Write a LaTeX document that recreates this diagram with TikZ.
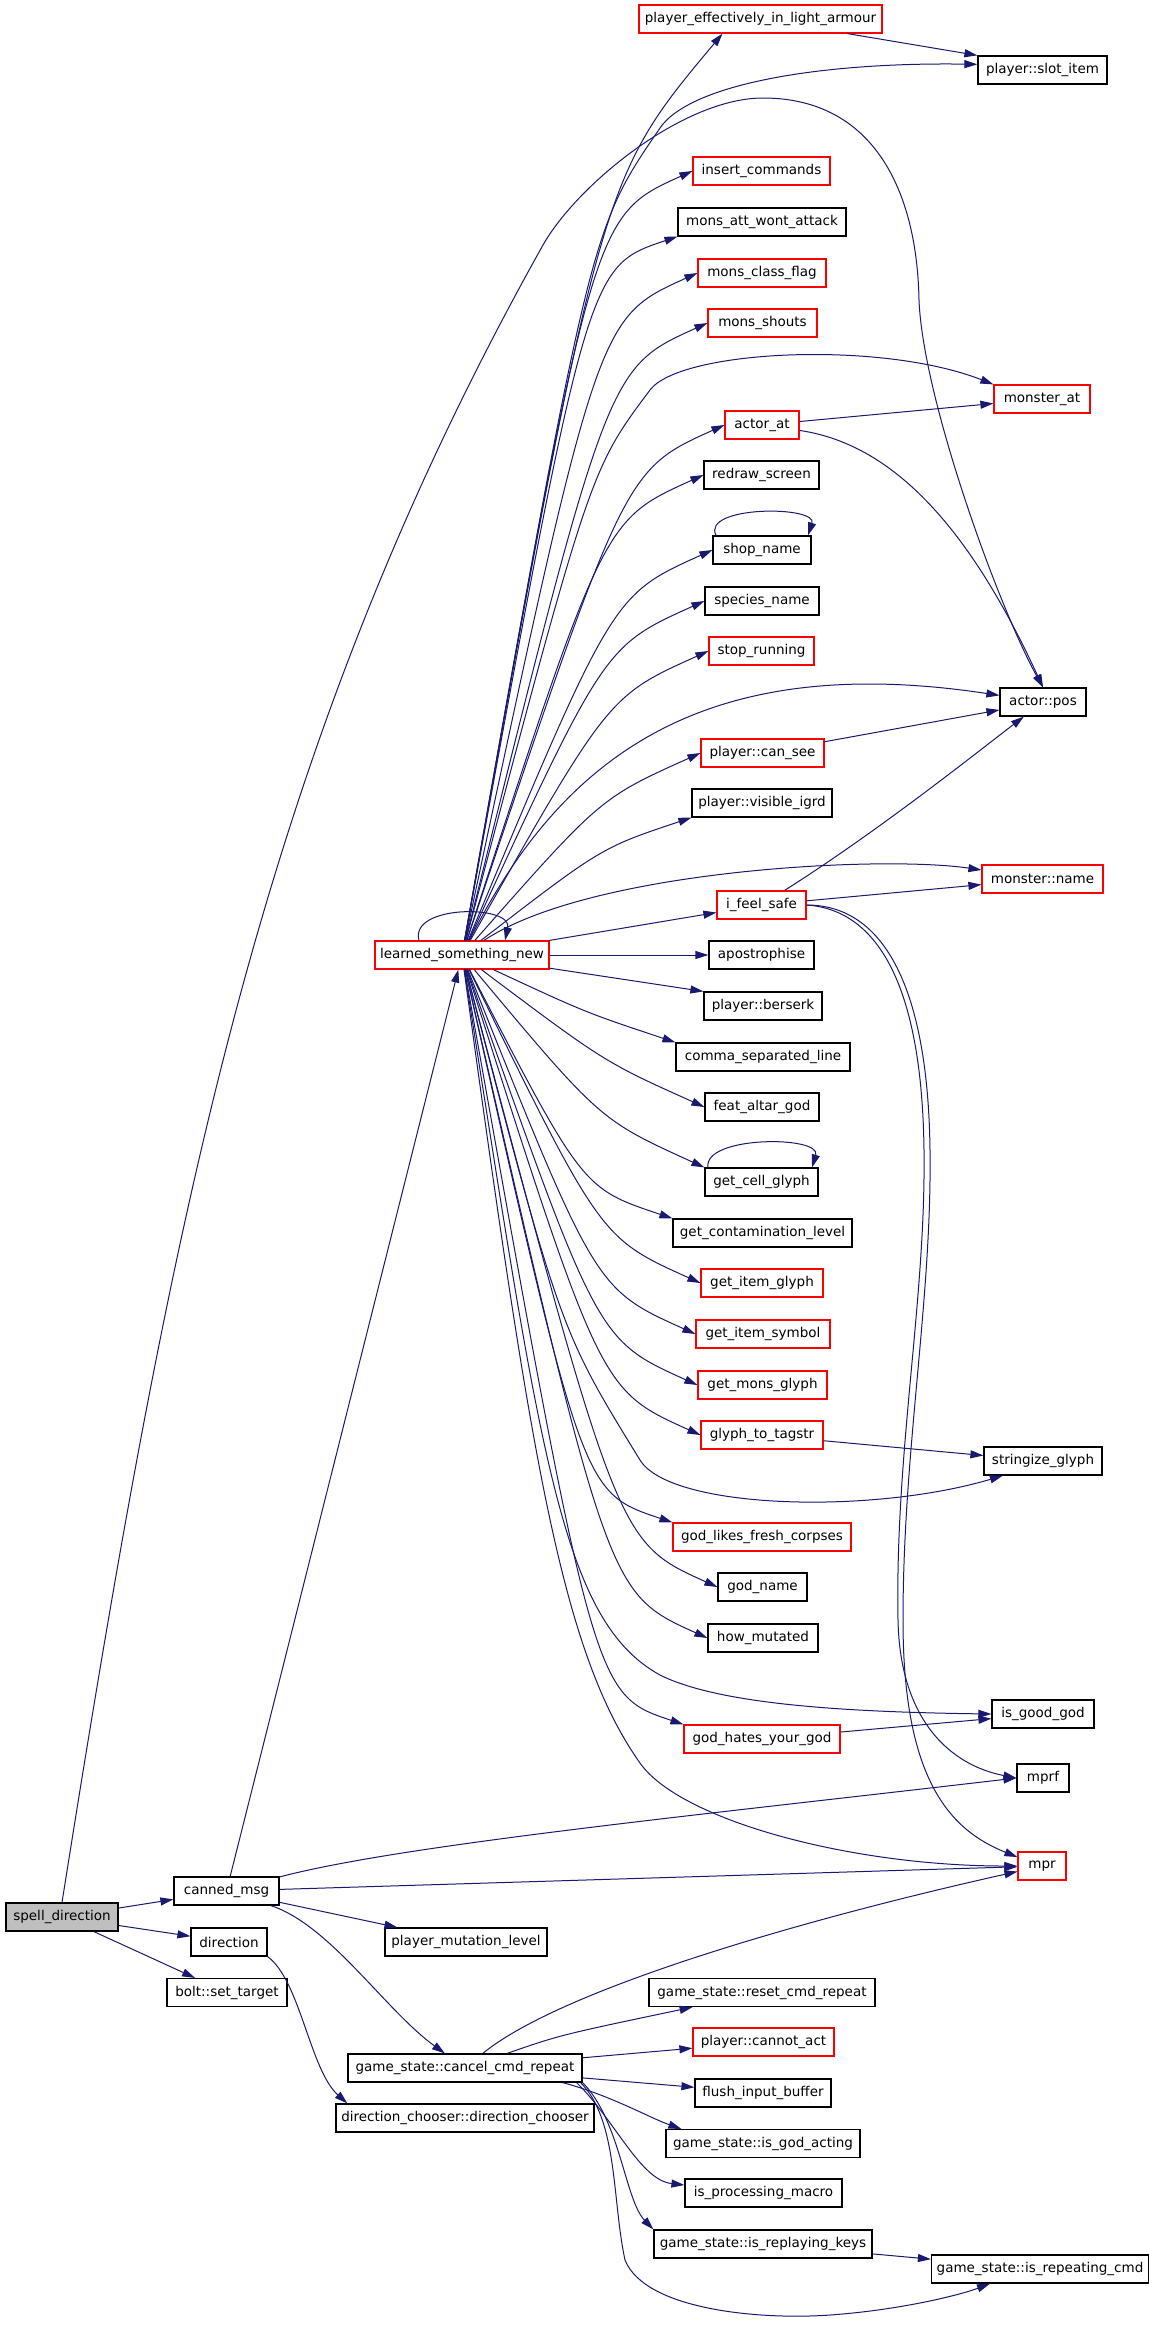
\documentclass[tikz,border=0pt]{standalone}
\usepackage{fontspec}
\setmainfont{DejaVu Sans}
\usepackage{tikz}
\usetikzlibrary{arrows.meta,calc}
\usepackage{xcolor}
\definecolor{edgeblue}{RGB}{25,25,112}
\definecolor{boxred}{RGB}{255,0,0}
\definecolor{rootgray}{RGB}{191,191,191}
\tikzset{
  fn/.style={draw=black, rectangle, line width=0.6pt, fill=white, minimum height=14pt, inner xsep=1pt, inner ysep=0pt, font=\fontsize{6.75pt}{8pt}\selectfont},
  fnred/.style={fn, draw=boxred},
  fnroot/.style={fn, fill=rootgray},
  call/.style={->, draw=edgeblue, line width=0.5pt}
}
\begin{document}
\begin{tikzpicture}[x=0.5pt, y=-0.5pt, >={Triangle[length=6.5pt,width=4pt]}] % 像素坐标, y 向下
            \useasboundingbox (0,0) rectangle (1149,2336);
            % 入口函数
            \node[fnroot, minimum width=56pt] (spelldir) at (62,1917) {spell\_direction};

            % 第一层
            \node[fn, minimum width=52.5pt] (canned) at (226.5,1891) {canned\_msg};
            \node[fn, minimum width=38pt] (direction) at (229,1942) {direction};
            \node[fn, minimum width=60pt] (bolt) at (227,1992.5) {bolt::set\_target};

            % 第二层
            \node[fnred, minimum width=87pt] (learned) at (462,955) {learned\_something\_new};
            \node[fn, minimum width=81pt] (mutlevel) at (466,1942) {player\_mutation\_level};
            \node[fn, minimum width=117pt] (cancelcmd) at (465,2068) {game\_state::cancel\_cmd\_repeat};
            \node[fn, minimum width=129pt] (chooser) at (465,2118) {direction\_chooser::direction\_chooser};

            % 第三层
            \node[fnred, minimum width=121.5pt] (lightarmour) at (760.5,19) {player\_effectively\_in\_light\_armour};
            \node[fnred, minimum width=68.5pt] (insertcmds) at (761.5,171) {insert\_commands};
            \node[fn, minimum width=84pt] (monsatt) at (762,222) {mons\_att\_wont\_attack};
            \node[fnred, minimum width=64pt] (monsclass) at (762,273) {mons\_class\_flag};
            \node[fnred, minimum width=54.5pt] (monsshouts) at (762.5,323) {mons\_shouts};
            \node[fnred, minimum width=37pt] (actorat) at (762,425) {actor\_at};
            \node[fn, minimum width=57.5pt] (redraw) at (761.5,475) {redraw\_screen};
            \node[fn, minimum width=49pt] (shopname) at (762,550) {shop\_name};
            \node[fn, minimum width=57pt] (species) at (762,601) {species\_name};
            \node[fnred, minimum width=52.5pt] (stoprun) at (761.5,651) {stop\_running};
            \node[fnred, minimum width=61.5pt] (cansee) at (762.5,753) {player::can\_see};
            \node[fn, minimum width=70pt] (visigrd) at (762,803) {player::visible\_igrd};
            \node[fnred, minimum width=44.5pt] (feelsafe) at (761.5,905) {i\_feel\_safe};
            \node[fn, minimum width=52.5pt] (apostr) at (761.5,955) {apostrophise};
            \node[fn, minimum width=59pt] (berserk) at (763,1006) {player::berserk};
            \node[fn, minimum width=87pt] (commaline) at (763,1057) {comma\_separated\_line};
            \node[fn, minimum width=57pt] (altargod) at (762,1107) {feat\_altar\_god};
            \node[fn, minimum width=56.5pt] (cellglyph) at (761.5,1182) {get\_cell\_glyph};
            \node[fn, minimum width=89.5pt] (contam) at (762.5,1233) {get\_contamination\_level};
            \node[fnred, minimum width=61pt] (itemglyph) at (762,1283) {get\_item\_glyph};
            \node[fnred, minimum width=67pt] (itemsymbol) at (763,1334) {get\_item\_symbol};
            \node[fnred, minimum width=64.5pt] (monsglyph) at (762.5,1385) {get\_mons\_glyph};
            \node[fnred, minimum width=61pt] (tagstr) at (762,1435) {glyph\_to\_tagstr};
            \node[fnred, minimum width=89pt] (freshcorpses) at (762,1537) {god\_likes\_fresh\_corpses};
            \node[fn, minimum width=44.5pt] (godname) at (762.5,1587) {god\_name};
            \node[fn, minimum width=55pt] (howmutated) at (763,1638) {how\_mutated};
            \node[fnred, minimum width=78pt] (hatesgod) at (762,1739) {god\_hates\_your\_god};
            \node[fn, minimum width=113pt] (resetrep) at (762,1992.5) {game\_state::reset\_cmd\_repeat};
            \node[fnred, minimum width=70.5pt] (cannotact) at (763.5,2042) {player::cannot\_act};
            \node[fn, minimum width=68pt] (flushinput) at (763,2093) {flush\_input\_buffer};
            \node[fn, minimum width=97pt] (godacting) at (763,2143.5) {game\_state::is\_god\_acting};
            \node[fn, minimum width=78.5pt] (procmacro) at (763.5,2193) {is\_processing\_macro};
            \node[fn, minimum width=109pt] (replaykeys) at (763,2244) {game\_state::is\_replaying\_keys};

            % 第四层
            \node[fn, minimum width=64.5pt] (slotitem) at (1042.5,70) {player::slot\_item};
            \node[fnred, minimum width=48pt] (monsterat) at (1042,399) {monster\_at};
            \node[fn, minimum width=43pt] (actorpos) at (1043,702) {actor::pos};
            \node[fnred, minimum width=60.5pt] (monstername) at (1042.5,879) {monster::name};
            \node[fn, minimum width=59pt] (stringize) at (1043,1461) {stringize\_glyph};
            \node[fn, minimum width=51pt] (goodgod) at (1043,1714) {is\_good\_god};
            \node[fn, minimum width=26pt] (mprf) at (1043,1778) {mprf};
            \node[fnred, minimum width=24pt] (mpr) at (1042,1866) {mpr};
            \node[fn, minimum width=108.5pt] (repeatcmd) at (1040,2269) {game\_state::is\_repeating\_cmd};

            % spell_direction 的调用
            \draw[call] (spelldir) -- (canned);
            \draw[call] (spelldir) -- (direction);
            \draw[call] (spelldir) -- (bolt);
            \draw[call] (spelldir.north) .. controls (173,1203) and (263,745) .. (543,245) .. controls (577,185) and (683,98) .. (763,98) .. controls (873,98) and (917,190) .. (919,300) .. controls (923,400) and (999,608) .. (actorpos.north);

            % canned_msg 的调用
            \draw[call] (canned) -- (learned);
            \draw[call] (canned) .. controls (400,1845) and (700,1815) .. (mprf.west);
            \draw[call] (canned) -- (mpr);
            \draw[call] (canned) -- (mutlevel);
            \draw[call] (canned) .. controls (330,1925) and (385,2010) .. (cancelcmd);
            \draw[call] (direction.south east) .. controls (300,1980) and (310,2070) .. ([xshift=6pt]chooser.north west);

            % learned_something_new 向上
            \foreach \t in {insertcmds,monsclass,monsshouts,actorat,redraw,shopname,species,stoprun,cansee}
              \draw[call] (learned) .. controls ($(\t.west)+(-100,45)$) .. (\t.west);
            \foreach \t in {monsatt,visigrd}
              \draw[call] (learned) .. controls ($(\t.south west)+(-90,30)$) .. (\t.south west);
            \draw[call] (learned) .. controls (600,180) .. ([xshift=-19pt]lightarmour.south);
            \draw[call] (learned) .. controls (590,230) .. (660,128) .. controls (690,84) and (820,62) .. (slotitem.175);
            \draw[call] (learned) .. controls (590,470) .. (650,390) .. controls (680,350) and (880,340) .. (monsterat.north west);
            \draw[call] (learned) .. controls (560,760) and (700,650) .. (actorpos);
            \draw[call] (learned) .. controls (590,870) and (880,855) .. (monstername);
            \draw[call] (learned) -- (feelsafe);
            \draw[call] (learned) -- (apostr);
            \draw[call] ([xshift=-21.5pt]learned.north) .. controls +(-10,-36) and +(8,-36) .. ([xshift=21.5pt]learned.north);

            % learned_something_new 向下
            \draw[call] (learned) -- (berserk.north west);
            \foreach \t in {altargod,itemglyph,itemsymbol,monsglyph,tagstr,godname,howmutated}
              \draw[call] (learned) .. controls ($(\t.west)+(-100,-45)$) .. (\t.west);
            \foreach \t in {commaline,contam,freshcorpses,hatesgod}
              \draw[call] (learned) .. controls ($(\t.north west)+(-90,-30)$) .. (\t.north west);
            \draw[call] (learned) .. controls (600,1120) .. (cellglyph.north west);
            \draw[call] (learned) .. controls (560,1330) .. (640,1460) .. controls (670,1509) and (870,1515) .. (stringize.200);
            \draw[call] (learned) .. controls (540,1450) and (560,1620) .. (660,1675) .. controls (720,1705) and (850,1712) .. (goodgod.west);
            \draw[call] (learned) .. controls (530,1450) and (560,1650) .. (640,1763) .. controls (680,1820) and (850,1866) .. (mpr.west);

            % 第三层之间
            \draw[call] (lightarmour) -- (slotitem.north west);
            \draw[call] (actorat) -- (monsterat);
            \draw[call] (actorat) .. controls (900,445) and (975,540) .. (actorpos.north);
            \draw[call] ([xshift=-23pt]shopname.north) .. controls +(-15,-30) and +(10,-30) .. ([xshift=23pt]shopname.north);
            \draw[call] (cansee) -- (actorpos);
            \draw[call] (feelsafe) .. controls (880,830) and (980,750) .. (actorpos);
            \draw[call] (feelsafe) -- (monstername);
            \draw[call] (feelsafe.east) .. controls (880,910) and (922,990) .. (924,1150) .. controls (926,1300) and (895,1450) .. (898,1620) .. controls (900,1720) and (950,1765) .. (mprf.west);
            \draw[call] (feelsafe.east) .. controls (885,905) and (928,990) .. (930,1150) .. controls (932,1300) and (903,1450) .. (903,1620) .. controls (903,1780) and (950,1830) .. (mpr.160);
            \draw[call] ([xshift=-26.75pt]cellglyph.north) .. controls +(-5,-32) and +(10,-32) .. ([xshift=25.25pt]cellglyph.north);
            \draw[call] (tagstr) -- (stringize);
            \draw[call] (hatesgod) -- (goodgod);

            % cancel_cmd_repeat 的调用
            \draw[call] (cancelcmd) .. controls (560,1990) and (800,1920) .. (mpr);
            \draw[call] (cancelcmd) .. controls (560,2035) .. (resetrep);
            \draw[call] (cancelcmd) -- (cannotact);
            \draw[call] (cancelcmd) -- (flushinput);
            \draw[call] ([xshift=-10pt]cancelcmd.south east) .. controls (610,2095) and (650,2118) .. ([xshift=8pt]godacting.north west);
            \draw[call] ([xshift=-3pt]cancelcmd.south east) .. controls (615,2120) and (640,2180) .. ([yshift=4pt]procmacro.west);
            \draw[call] (cancelcmd.south east) .. controls (620,2120) and (625,2200) .. (replaykeys.north west);
            \draw[call] ([xshift=-1pt]cancelcmd.south east) .. controls (618,2120) and (612,2200) .. (625,2260) .. controls (645,2310) and (760,2320) .. (830,2315) .. controls (900,2310) and (960,2295) .. ([xshift=-25pt]repeatcmd.south);
            \draw[call] (replaykeys) -- (repeatcmd);
        \end{tikzpicture}
\end{document}
